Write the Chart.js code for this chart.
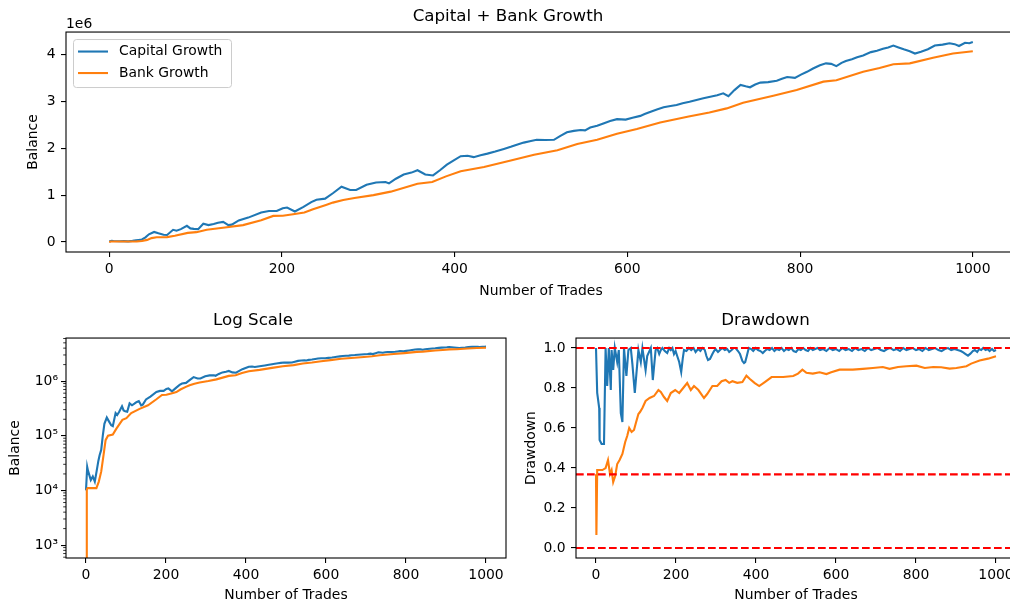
<!DOCTYPE html>
<html>
<head>
<meta charset="utf-8">
<title>Capital + Bank Growth</title>
<script src="https://cdn.jsdelivr.net/npm/chart.js@4.4.1/dist/chart.umd.min.js"></script>
<style>
  html, body { margin: 0; padding: 0; background: #fff; overflow: hidden; }
  body { width: 1010px; height: 604px; position: relative; }
  .panel { position: absolute; }
  #growthBox { left: 0; top: 0; width: 1030px; height: 310px; }
  #logBox { left: 0; top: 300px; width: 515px; height: 304px; }
  #ddBox { left: 515px; top: 300px; width: 515px; height: 304px; }
</style>
</head>
<body>
<div class="panel" id="growthBox"><canvas id="growthChart"></canvas></div>
<div class="panel" id="logBox"><canvas id="logChart"></canvas></div>
<div class="panel" id="ddBox"><canvas id="ddChart"></canvas></div>
<script>
// capital balance by trade number
const capitalTrades = [0, 3, 5, 12, 17, 22, 27, 31, 34, 38, 42, 46, 52, 57, 63, 67, 74, 78, 83, 90,
  94, 98, 103, 109, 115, 121, 126, 132, 138, 142, 150, 161, 176, 185, 194, 201, 206, 215, 225, 234,
  240, 250, 259, 269, 279, 286, 298, 309, 320, 324, 332, 341, 350, 357, 366, 375, 383, 391, 399, 407,
  415, 422, 430, 438, 447, 457, 465, 472, 480, 487, 495, 505, 515, 522, 530, 538, 546, 551, 557, 565,
  573, 580, 588, 598, 606, 615, 620, 627, 635, 642, 650, 657, 664, 672, 680, 688, 696, 704, 711, 717,
  724, 731, 737, 742, 748, 754, 763, 773, 779, 785, 794, 801, 808, 815, 823, 830, 836, 842, 848, 853,
  860, 866, 873, 882, 889, 896, 902, 908, 914, 920, 927, 933, 940, 948, 956, 965, 973, 979, 984, 991,
  996, 1000];
const capitalBalance = [10000, 27000, 23000, 15500, 18000, 14500, 23500, 35000, 44000, 55000,
  100000, 165000, 215000, 185000, 155000, 150000, 260000, 240000, 275000, 345000,
  290000, 280000, 275000, 390000, 360000, 385000, 410000, 430000, 360000, 370000,
  460000, 520000, 630000, 660000, 660000, 720000, 735000, 650000, 750000, 850000,
  900000, 925000, 1040000, 1180000, 1110000, 1110000, 1220000, 1270000, 1280000, 1250000,
  1350000, 1440000, 1480000, 1530000, 1440000, 1420000, 1530000, 1650000, 1740000, 1830000,
  1840000, 1810000, 1850000, 1885000, 1930000, 1985000, 2030000, 2075000, 2120000, 2150000,
  2180000, 2175000, 2180000, 2260000, 2340000, 2370000, 2390000, 2380000, 2440000, 2480000,
  2535000, 2580000, 2620000, 2610000, 2650000, 2690000, 2730000, 2780000, 2830000, 2875000,
  2900000, 2920000, 2960000, 2990000, 3030000, 3065000, 3100000, 3130000, 3170000, 3110000,
  3240000, 3350000, 3320000, 3300000, 3360000, 3400000, 3410000, 3440000, 3480000, 3520000,
  3500000, 3570000, 3630000, 3700000, 3770000, 3810000, 3800000, 3750000, 3820000, 3860000,
  3900000, 3940000, 3980000, 4050000, 4080000, 4120000, 4150000, 4190000, 4150000, 4110000,
  4070000, 4020000, 4060000, 4110000, 4190000, 4210000, 4240000, 4220000, 4180000, 4250000,
  4240000, 4265000];

// bank balance by trade number
const bankTrades = [0, 2, 4, 26, 32, 38, 44, 49, 55, 67, 76, 91, 101, 113, 134, 155, 176, 190, 201, 213,
  226, 236, 251, 259, 271, 284, 306, 326, 357, 374, 390, 407, 434, 465, 492, 519, 542, 565, 588, 611,
  638, 671, 695, 715, 734, 769, 796, 827, 842, 873, 892, 908, 927, 954, 977, 1000];
const bankBalance = [400, 10500, 11000, 11000, 14500, 22000, 45000, 83000, 100000, 105000,
  135000, 195000, 210000, 260000, 310000, 360000, 465000, 557000, 560000, 593000,
  630000, 700000, 790000, 840000, 896000, 940000, 1000000, 1074000, 1244000, 1280000,
  1400000, 1510000, 1600000, 1740000, 1860000, 1955000, 2090000, 2180000, 2310000, 2410000,
  2550000, 2675000, 2760000, 2850000, 2970000, 3120000, 3240000, 3420000, 3450000, 3630000,
  3710000, 3790000, 3810000, 3930000, 4020000, 4070000];

// drawdown ratios
const ddCapitalTrades = [0, 3, 8, 9, 14, 20, 24, 28, 32, 37,
  39, 43, 47, 53, 57, 62, 66, 70, 76, 81,
  87, 91, 97, 106, 112, 116, 124, 128, 137, 142,
  149, 153, 158, 162, 166, 172, 178, 183, 187, 191,
  195, 199, 203, 208, 213, 217, 220, 226, 232, 238,
  244, 249, 255, 261, 266, 272, 276, 280, 285, 291,
  295, 299, 305, 310, 316, 322, 328, 333, 339, 344,
  349, 355, 360, 366, 370, 373, 377, 382, 388, 393,
  399, 405, 411, 417, 422, 428, 434, 440, 446, 452,
  458, 464, 470, 476, 482, 488, 494, 500, 506, 512,
  518, 524, 530, 536, 542, 548, 554, 560, 568, 576,
  584, 592, 600, 608, 616, 624, 632, 640, 648, 656,
  664, 672, 680, 688, 696, 704, 712, 720, 728, 736,
  744, 752, 760, 768, 776, 784, 792, 800, 808, 816,
  824, 832, 840, 848, 856, 864, 872, 880, 888, 896,
  904, 912, 918, 924, 930, 936, 942, 947, 953, 958,
  963, 968, 974, 979, 984, 990, 995, 1000];
const ddCapital = [1.0, 0.776, 0.70, 0.54, 0.52, 0.52, 1.0, 0.81, 1.0, 0.79,
  0.99, 0.89, 1.0, 0.93, 0.99, 0.675, 0.63, 1.0, 0.86, 0.99,
  1.0, 0.92, 0.775, 0.99, 0.93, 1.0, 0.89, 0.96, 1.0, 0.84,
  0.99, 1.0, 0.97, 0.99, 1.0, 0.985, 0.975, 1.0, 0.99, 1.0,
  0.97, 0.985, 0.96, 0.93, 0.88, 0.95, 0.99, 0.985, 1.0, 0.99,
  1.0, 0.98, 0.995, 0.985, 1.0, 0.99, 0.96, 0.94, 0.945, 0.97,
  0.985, 0.995, 0.98, 0.99, 1.0, 0.99, 0.995, 0.98, 0.99, 1.0,
  1.0, 0.985, 0.97, 0.935, 0.925, 0.93, 0.96, 1.0, 0.995, 0.985,
  1.0, 0.99, 0.985, 0.975, 0.985, 0.995, 0.99, 1.0, 0.985, 0.995,
  0.99, 1.0, 0.985, 0.995, 0.99, 1.0, 0.985, 0.98, 0.995, 0.99,
  1.0, 0.99, 0.985, 1.0, 0.99, 0.995, 1.0, 0.99, 0.995, 0.985,
  1.0, 0.99, 0.995, 0.985, 1.0, 0.99, 0.995, 0.985, 1.0, 0.99,
  0.995, 0.985, 1.0, 0.99, 0.995, 1.0, 0.99, 0.985, 0.995, 1.0,
  0.99, 0.995, 0.985, 1.0, 0.99, 0.995, 1.0, 0.99, 0.995, 0.985,
  1.0, 0.99, 0.995, 1.0, 0.99, 0.985, 0.995, 1.0, 0.99, 0.995,
  0.99, 0.985, 0.978, 0.97, 0.962, 0.972, 0.985, 0.99, 0.98, 0.995,
  0.99, 1.0, 0.99, 0.995, 0.985, 0.995, 0.985, 0.99];
const ddBankTrades = [0, 1, 3, 16, 24, 30, 35, 39, 43, 48, 53, 59, 66, 73, 78, 83, 89, 95, 99, 106,
  110, 116, 124, 134, 145, 156, 162, 170, 178, 187, 198, 208, 218, 228, 237, 245, 256, 270, 278, 291,
  303, 314, 324, 333, 341, 353, 366, 376, 384, 397, 408, 422, 439, 468, 493, 505, 516, 526, 542, 559,
  576, 588, 609, 626, 642, 667, 692, 717, 734, 755, 776, 801, 822, 843, 863, 884, 901, 926, 938, 959,
  980, 1000];
const ddBank = [0.369, 0.065, 0.39, 0.39, 0.40, 0.44, 0.37, 0.39, 0.33, 0.36,
  0.42, 0.44, 0.47, 0.53, 0.56, 0.60, 0.58, 0.59, 0.62, 0.67,
  0.68, 0.70, 0.735, 0.75, 0.76, 0.79, 0.78, 0.755, 0.735, 0.775,
  0.79, 0.775, 0.80, 0.825, 0.79, 0.81, 0.79, 0.75, 0.77, 0.81,
  0.81, 0.834, 0.84, 0.826, 0.834, 0.826, 0.83, 0.862, 0.846, 0.825,
  0.81, 0.83, 0.855, 0.855, 0.86, 0.872, 0.892, 0.876, 0.872, 0.879,
  0.87, 0.879, 0.892, 0.892, 0.892, 0.896, 0.90, 0.905, 0.896, 0.905,
  0.909, 0.912, 0.90, 0.905, 0.904, 0.897, 0.90, 0.909, 0.922, 0.938,
  0.947, 0.959];
const ddLevels = [1.0, 0.368, 0.0];

// axis ranges and ticks
const tradeRange = [-50, 1050];
const tradeTicks = [0, 200, 400, 600, 800, 1000];
const balanceRange = [-213000, 4478000];
const balanceTicks = [0, 1000000, 2000000, 3000000, 4000000];
const logRange = [580, 6120000];
const logTicks = [1000, 10000, 100000, 1000000];
const ddRange = [-0.05, 1.05];
const ddTicks = [0, 0.2, 0.4, 0.6, 0.8, 1.0];

const BLUE = '#1f77b4';
const ORANGE = '#ff7f0e';
const INK = '#000000';
const FAMILY = "'DejaVu Sans', sans-serif";
const tickFont = { family: FAMILY, size: 13.9 };
const titleFont = { family: FAMILY, size: 16.7, weight: 'normal' };

Chart.defaults.font.family = FAMILY;

function pairs(xs, ys) {
  return xs.map((x, i) => ({ x: x, y: ys[i] }));
}

const SUP = '⁰¹²³⁴⁵⁶⁷⁸⁹';
function powerLabel(v) {
  const e = String(Math.round(Math.log10(v)));
  return '10' + e.split('').map(d => SUP[+d]).join('');
}

// minor log ticks: 2..9 times each decade
const minorLogValues = [];
[100].concat(logTicks).forEach(d => {
  for (let k = 2; k < 10; k++) minorLogValues.push(d * k);
});

// spines, minor ticks, offset text and the in-axes legend
const framePlugin = {
  id: 'frame',
  afterDatasetsDraw(chart, args, opts) {
    const ctx = chart.ctx, a = chart.chartArea;
    ctx.save();
    ctx.strokeStyle = INK;
    ctx.lineWidth = 1.1;
    ctx.strokeRect(a.left, a.top, a.right - a.left, a.bottom - a.top);
    if (opts.minor) {
      const y = chart.scales.y;
      ctx.lineWidth = 0.8;
      ctx.beginPath();
      minorLogValues.forEach(v => {
        const py = y.getPixelForValue(v);
        if (py < a.top || py > a.bottom) return;
        ctx.moveTo(a.left - 2.8, py);
        ctx.lineTo(a.left, py);
      });
      ctx.stroke();
    }
    ctx.restore();
  },
  afterDraw(chart, args, opts) {
    const ctx = chart.ctx, a = chart.chartArea;
    ctx.save();
    if (opts.offsetText) {
      ctx.fillStyle = INK;
      ctx.font = '13.9px ' + FAMILY;
      ctx.textAlign = 'left';
      ctx.textBaseline = 'alphabetic';
      ctx.fillText(opts.offsetText, a.left, a.top - 4.5);
    }
    if (opts.legend) {
      const items = chart.data.datasets.filter(d => d.label);
      const x0 = a.left + 7, y0 = a.top + 7;
      ctx.beginPath();
      ctx.roundRect(x0 + 0.5, y0 + 0.5, 158, 48, 3);
      ctx.fillStyle = 'rgba(255,255,255,0.8)';
      ctx.fill();
      ctx.strokeStyle = '#cccccc';
      ctx.lineWidth = 1;
      ctx.stroke();
      ctx.font = '13.9px ' + FAMILY;
      ctx.textBaseline = 'middle';
      ctx.textAlign = 'left';
      items.forEach((d, i) => {
        const y = y0 + 12.5 + i * 21.5;
        ctx.strokeStyle = d.borderColor;
        ctx.lineWidth = 2.1;
        ctx.beginPath();
        ctx.moveTo(x0 + 5, y);
        ctx.lineTo(x0 + 35, y);
        ctx.stroke();
        ctx.fillStyle = INK;
        ctx.fillText(d.label, x0 + 46, y);
      });
    }
    ctx.restore();
  }
};

function seriesLine(label, xs, ys, color, order) {
  return { label: label, data: pairs(xs, ys), borderColor: color, backgroundColor: color,
    borderWidth: 2.1, pointRadius: 0, tension: 0, fill: false, order: order };
}

function levelLine(level) {
  return { data: [{ x: tradeRange[0], y: level }, { x: tradeRange[1], y: level }],
    borderColor: '#ff0000', borderWidth: 2.1, borderDash: [7.7, 3.3], pointRadius: 0, order: 0 };
}

// shared options; p holds the layout numbers of one panel
function panelOptions(p) {
  return {
    responsive: true,
    maintainAspectRatio: false,
    animation: false,
    devicePixelRatio: 1,
    events: [],
    layout: { padding: { left: 0, top: 0, bottom: 0, right: p.padRight } },
    plugins: {
      legend: { display: false },
      tooltip: { enabled: false },
      title: { display: true, text: p.title, color: INK, font: titleFont,
        padding: { top: p.titleTop, bottom: p.titleBottom } },
      frame: { offsetText: p.offsetText, minor: p.minor, legend: p.legend }
    },
    scales: {
      x: {
        type: 'linear', min: tradeRange[0], max: tradeRange[1],
        afterBuildTicks: s => { s.ticks = tradeTicks.map(v => ({ value: v })); },
        afterFit: s => { s.height = p.xHeight; },
        grid: { drawOnChartArea: false, drawTicks: true, tickLength: 5, tickColor: INK, lineWidth: 1.1 },
        border: { display: false },
        ticks: { color: INK, font: tickFont, padding: 4, maxRotation: 0, autoSkip: false,
          callback: v => String(v) },
        title: { display: true, text: 'Number of Trades', color: INK, font: tickFont,
          padding: { top: 0, bottom: p.xTitleBottom } }
      },
      y: {
        type: p.yType, min: p.yRange[0], max: p.yRange[1],
        afterBuildTicks: s => { s.ticks = p.yTicks.map(v => ({ value: v })); },
        afterFit: s => { s.width = p.yWidth; },
        grid: { drawOnChartArea: false, drawTicks: true, tickLength: 5, tickColor: INK, lineWidth: 1.1 },
        border: { display: false },
        ticks: { color: INK, font: tickFont, padding: p.yTickPad, autoSkip: false, callback: p.yLabel },
        title: { display: true, text: p.yTitle, color: INK, font: tickFont,
          padding: { top: p.yTitleTop, bottom: 0 } }
      }
    }
  };
}

new Chart(document.getElementById('growthChart'), {
  type: 'line',
  data: { datasets: [
    seriesLine('Capital Growth', capitalTrades, capitalBalance, BLUE, 2),
    seriesLine('Bank Growth', bankTrades, bankBalance, ORANGE, 1)
  ] },
  options: panelOptions({
    title: 'Capital + Bank Growth', titleTop: 6.5, titleBottom: 5.5,
    padRight: 14, xHeight: 58, xTitleBottom: 10.7,
    yType: 'linear', yRange: balanceRange, yTicks: balanceTicks, yWidth: 66, yTickPad: 5.5,
    yLabel: v => String(Math.round(v / 1e6)), yTitle: 'Balance', yTitleTop: 25,
    offsetText: '1e6', legend: true
  }),
  plugins: [framePlugin]
});

new Chart(document.getElementById('logChart'), {
  type: 'line',
  data: { datasets: [
    seriesLine('Capital Growth', capitalTrades, capitalBalance, BLUE, 2),
    seriesLine('Bank Growth', bankTrades, bankBalance, ORANGE, 1)
  ] },
  options: panelOptions({
    title: 'Log Scale', titleTop: 10.5, titleBottom: 7.5,
    padRight: 9, xHeight: 46, xTitleBottom: 0.7,
    yType: 'logarithmic', yRange: logRange, yTicks: logTicks, yWidth: 66, yTickPad: 3,
    yLabel: v => powerLabel(v), yTitle: 'Balance', yTitleTop: 7.4,
    minor: true
  }),
  plugins: [framePlugin]
});

new Chart(document.getElementById('ddChart'), {
  type: 'line',
  data: { datasets: ddLevels.map(levelLine).concat([
    seriesLine('Capital Growth', ddCapitalTrades, ddCapital, BLUE, 2),
    seriesLine('Bank Growth', ddBankTrades, ddBank, ORANGE, 1)
  ]) },
  options: panelOptions({
    title: 'Drawdown', titleTop: 10.5, titleBottom: 7.5,
    padRight: 14, xHeight: 46, xTitleBottom: 0.7,
    yType: 'linear', yRange: ddRange, yTicks: ddTicks, yWidth: 61, yTickPad: 5.5,
    yLabel: v => v.toFixed(1), yTitle: 'Drawdown', yTitleTop: 7.7
  }),
  plugins: [framePlugin]
});
</script>
</body>
</html>
